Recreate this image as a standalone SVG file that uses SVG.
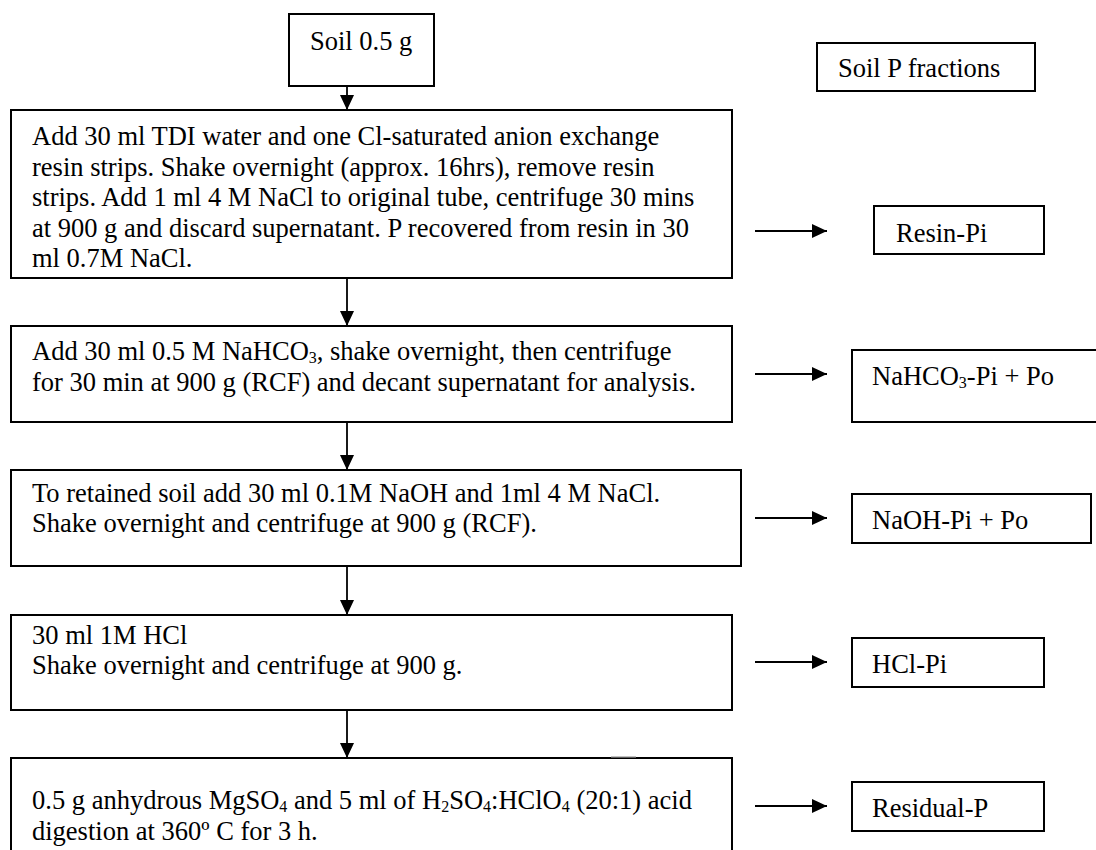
<svg xmlns="http://www.w3.org/2000/svg" width="1096" height="850" viewBox="0 0 1096 850">
<defs>
<style>
.box{fill:#fff;stroke:#000;stroke-width:2}
.t{font-family:"Liberation Serif","Times New Roman",serif;font-size:26.5px;fill:#000}
.sub{font-size:16px}
.ln{stroke:#000;stroke-width:1.8;fill:none}
</style>
<marker id="ah" markerWidth="15" markerHeight="14" refX="15" refY="7" orient="auto" markerUnits="userSpaceOnUse">
<path d="M0,0 L15,7 L0,14 Z" fill="#000"/>
</marker>
</defs>
<rect width="1096" height="850" fill="#fff"/>
<g id="connectors">
<line class="ln" x1="347" y1="86" x2="347" y2="110" marker-end="url(#ah)"/>
<line class="ln" x1="347" y1="278" x2="347" y2="326" marker-end="url(#ah)"/>
<line class="ln" x1="347" y1="422" x2="347" y2="470" marker-end="url(#ah)"/>
<line class="ln" x1="347" y1="566" x2="347" y2="615" marker-end="url(#ah)"/>
<line class="ln" x1="347" y1="710" x2="347" y2="758" marker-end="url(#ah)"/>
<line class="ln" x1="755" y1="231" x2="827" y2="231" marker-end="url(#ah)"/>
<line class="ln" x1="755" y1="374" x2="827" y2="374" marker-end="url(#ah)"/>
<line class="ln" x1="755" y1="518" x2="827" y2="518" marker-end="url(#ah)"/>
<line class="ln" x1="755" y1="662" x2="827" y2="662" marker-end="url(#ah)"/>
<line class="ln" x1="755" y1="806" x2="827" y2="806" marker-end="url(#ah)"/>
</g>
<g id="soil">
<rect class="box" x="289" y="14" width="145" height="72"/>
<text class="t" x="310" y="50">Soil 0.5 g</text>
</g>
<g id="fractions">
<rect class="box" x="817" y="43" width="218" height="48"/>
<text class="t" x="838" y="77">Soil P fractions</text>
</g>
<g id="step1">
<rect class="box" x="11" y="110" width="721" height="168"/>
<text class="t" x="32" y="145">Add 30 ml TDI water and one Cl-saturated anion exchange</text>
<text class="t" x="32" y="175.5">resin strips. Shake overnight (approx. 16hrs), remove resin</text>
<text class="t" x="32" y="206">strips. Add 1 ml 4 M NaCl to original tube, centrifuge 30 mins</text>
<text class="t" x="32" y="236.5">at 900 g and discard supernatant. P recovered from resin in 30</text>
<text class="t" x="32" y="267">ml 0.7M NaCl.</text>
</g>
<g id="step2">
<rect class="box" x="11" y="326" width="721" height="96"/>
<text class="t" x="32" y="360">Add 30 ml 0.5 M NaHCO<tspan class="sub" dy="3">3</tspan><tspan dy="-3">, shake overnight, then centrifuge</tspan></text>
<text class="t" x="32" y="391">for 30 min at 900 g (RCF) and decant supernatant for analysis.</text>
</g>
<g id="step3">
<rect class="box" x="11" y="470" width="730" height="96"/>
<text class="t" x="32" y="502">To retained soil add 30 ml 0.1M NaOH and 1ml 4 M NaCl.</text>
<text class="t" x="32" y="532">Shake overnight and centrifuge at 900 g (RCF).</text>
</g>
<g id="step4">
<rect class="box" x="11" y="615" width="721" height="95"/>
<text class="t" x="32" y="644">30 ml 1M HCl</text>
<text class="t" x="32" y="674">Shake overnight and centrifuge at 900 g.</text>
</g>
<g id="step5">
<rect class="box" x="11" y="758" width="721" height="110"/>
<line x1="611" y1="757" x2="636" y2="757" stroke="#999" stroke-width="1.2"/>
<text class="t" x="32" y="809">0.5 g anhydrous MgSO<tspan class="sub" dy="3">4</tspan><tspan dy="-3"> and 5 ml of H</tspan><tspan class="sub" dy="3">2</tspan><tspan dy="-3">SO</tspan><tspan class="sub" dy="3">4</tspan><tspan dy="-3">:HClO</tspan><tspan class="sub" dy="3">4</tspan><tspan dy="-3"> (20:1) acid</tspan></text>
<text class="t" x="32" y="840">digestion at 360º C for 3 h.</text>
</g>
<g id="resin">
<rect class="box" x="874" y="206" width="170" height="48"/>
<text class="t" x="896" y="242">Resin-Pi</text>
</g>
<g id="nahco3">
<rect class="box" x="852" y="350" width="260" height="72"/>
<text class="t" x="872" y="385">NaHCO<tspan class="sub" dy="3">3</tspan><tspan dy="-3">-Pi + Po</tspan></text>
</g>
<g id="naoh">
<rect class="box" x="852" y="494" width="239" height="49"/>
<text class="t" x="872" y="529">NaOH-Pi + Po</text>
</g>
<g id="hcl">
<rect class="box" x="852" y="638" width="192" height="49"/>
<text class="t" x="872" y="673">HCl-Pi</text>
</g>
<g id="residual">
<rect class="box" x="852" y="782" width="192" height="49"/>
<text class="t" x="872" y="817">Residual-P</text>
</g>
</svg>
